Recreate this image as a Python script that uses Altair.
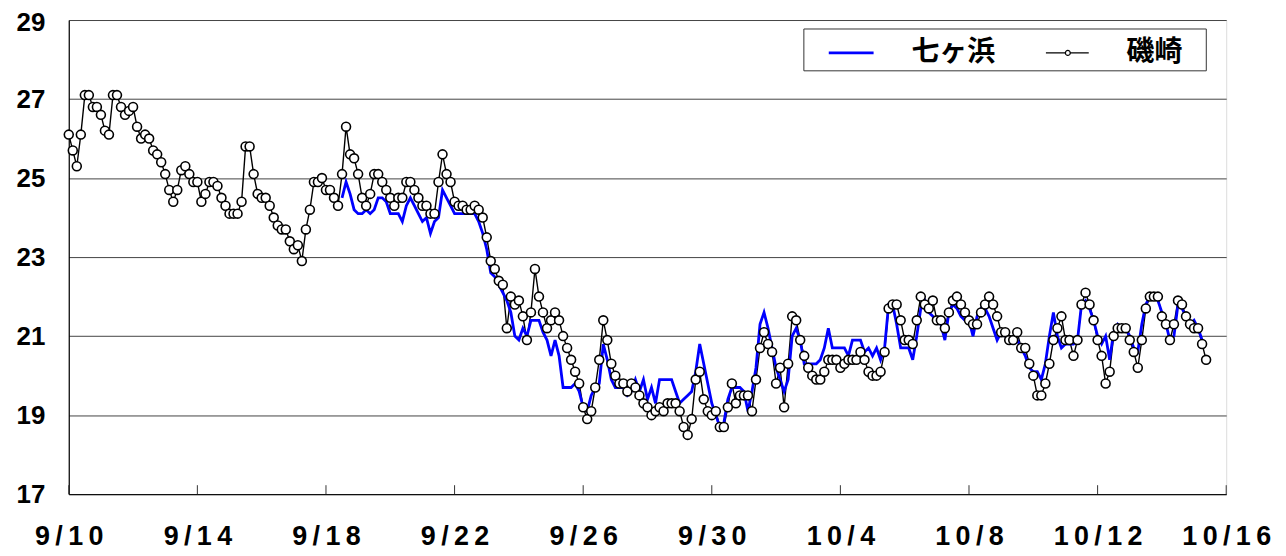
import altair as alt
import pandas as pd

# 磯崎 : 3-hourly values from 2023-09-10 00:00
isozaki = [
    26.1, 25.7, 25.3, 26.1, 27.1, 27.1, 26.8, 26.8,
    26.6, 26.2, 26.1, 27.1, 27.1, 26.8, 26.6, 26.7,
    26.8, 26.3, 26.0, 26.1, 26.0, 25.7, 25.6, 25.4,
    25.1, 24.7, 24.4, 24.7, 25.2, 25.3, 25.1, 24.9,
    24.9, 24.4, 24.6, 24.9, 24.9, 24.8, 24.5, 24.3,
    24.1, 24.1, 24.1, 24.4, 25.8, 25.8, 25.1, 24.6,
    24.5, 24.5, 24.3, 24.0, 23.8, 23.7, 23.7, 23.4,
    23.2, 23.3, 22.9, 23.7, 24.2, 24.9, 24.9, 25.0,
    24.7, 24.7, 24.5, 24.3, 25.1, 26.3, 25.6, 25.5,
    25.1, 24.5, 24.3, 24.6, 25.1, 25.1, 24.9, 24.7,
    24.5, 24.3, 24.5, 24.5, 24.9, 24.9, 24.7, 24.5,
    24.3, 24.3, 24.1, 24.1, 24.9, 25.6, 25.1, 24.9,
    24.4, 24.3, 24.3, 24.2, 24.2, 24.3, 24.2, 24.0,
    23.5, 22.9, 22.7, 22.4, 22.3, 21.2, 22.0, 21.8,
    21.9, 21.5, 20.9, 21.6, 22.7, 22.0, 21.6, 21.2,
    21.4, 21.6, 21.4, 21.0, 20.7, 20.4, 20.1, 19.8,
    19.2, 18.9, 19.1, 19.7, 20.4, 21.4, 20.9, 20.3,
    20.0, 19.8, 19.8, 19.6, 19.8, 19.7, 19.5, 19.3,
    19.2, 19.0, 19.1, 19.2, 19.1, 19.3, 19.3, 19.3,
    19.1, 18.7, 18.5, 18.9, 19.9, 20.1, 19.4, 19.1,
    19.0, 19.1, 18.7, 18.7, 19.2, 19.8, 19.3, 19.5,
    19.5, 19.5, 19.1, 19.9, 20.7, 21.1, 20.8, 20.6,
    19.8, 20.2, 19.2, 20.3, 21.5, 21.4, 20.9, 20.5,
    20.2, 20.0, 19.9, 19.9, 20.1, 20.4, 20.4, 20.4,
    20.2, 20.3, 20.4, 20.4, 20.4, 20.6, 20.4, 20.1,
    20.0, 20.0, 20.1, 20.6, 21.7, 21.8, 21.8, 21.4,
    20.9, 20.9, 20.8, 21.4, 22.0, 21.8, 21.7, 21.9,
    21.4, 21.4, 21.2, 21.6, 21.9, 22.0, 21.8, 21.6,
    21.4, 21.3, 21.3, 21.6, 21.8, 22.0, 21.8, 21.5,
    21.1, 21.1, 20.9, 20.9, 21.1, 20.7, 20.7, 20.3,
    20.0, 19.5, 19.5, 19.8, 20.3, 20.9, 21.2, 21.5,
    20.9, 20.9, 20.5, 20.9, 21.8, 22.1, 21.8, 21.4,
    20.9, 20.5, 19.8, 20.1, 21.0, 21.2, 21.2, 21.2,
    20.9, 20.6, 20.2, 20.9, 21.7, 22.0, 22.0, 22.0,
    21.5, 21.3, 20.9, 21.3, 21.9, 21.8, 21.5, 21.3,
    21.2, 21.2, 20.8, 20.4,
]

# 七ヶ浜 : 3-hourly values from 2023-09-18 12:00
shichigahama = [
    24.5, 24.9, 24.6, 24.2,
    24.1, 24.1, 24.2, 24.1, 24.2, 24.5, 24.5, 24.4,
    24.1, 24.1, 24.1, 23.9, 24.3, 24.5, 24.3, 24.1,
    23.9, 24.0, 23.6, 23.9, 24.0, 24.7, 24.5, 24.3,
    24.1, 24.1, 24.1, 24.1, 24.1, 24.1, 23.9, 23.6,
    23.2, 22.6, 22.5, 22.3, 22.1, 21.9, 21.6, 21.0,
    20.9, 21.2, 21.0, 21.4, 21.4, 21.4, 21.1, 20.9,
    20.5, 20.9, 20.5, 19.7, 19.7, 19.7, 19.8, 19.6,
    19.2, 19.1, 19.5, 19.7, 19.8, 20.8, 20.4, 19.9,
    19.7, 19.7, 19.7, 19.5, 19.6, 19.9, 19.6, 19.9,
    19.4, 19.7, 19.3, 19.9, 19.9, 19.9, 19.9, 19.6,
    19.3, 19.4, 19.5, 19.6, 20.1, 20.8, 20.3, 19.8,
    19.3, 19.0, 18.7, 18.8, 19.4, 19.7, 19.7, 19.7,
    19.6, 19.1, 19.6, 20.2, 21.3, 21.6, 21.2, 20.7,
    20.2, 19.9, 19.6, 19.9, 21.0, 21.2, 20.9, 20.3,
    20.3, 20.3, 20.3, 20.4, 20.7, 21.2, 20.7, 20.7,
    20.7, 20.7, 20.5, 20.9, 20.9, 20.9, 20.6, 20.7,
    20.5, 20.7, 20.4, 20.7, 21.8, 21.8, 21.3, 20.7,
    20.7, 20.7, 20.4, 21.0, 21.7, 21.9, 21.6, 21.5,
    21.4, 21.3, 20.9, 21.6, 21.8, 21.7, 21.5, 21.4,
    21.4, 21.0, 21.5, 21.7, 21.7, 21.5, 21.2, 20.9,
    21.1, 21.0, 20.9, 20.9, 20.9, 20.7, 20.5, 20.2,
    20.1, 20.1, 19.9, 20.3, 21.0, 21.6, 21.0, 20.7,
    20.8, 20.8, 20.8, 20.9, 21.8, 21.9, 21.7, 21.4,
    21.0, 20.8, 21.0, 20.4, 21.1, 21.3, 21.2, 21.2,
    21.0, 20.7, 20.6, 21.3, 21.8, 22.0, 22.0, 21.9,
    21.6, 21.3, 20.9, 21.0, 21.8, 21.7, 21.5, 21.3,
    21.4, 21.2, 20.9, 20.8,
]

tick_dates = [(9, 10), (9, 14), (9, 18), (9, 22), (9, 26), (9, 30),
              (10, 4), (10, 8), (10, 12), (10, 16)]
y_ticks = [17, 19, 21, 23, 25, 27, 29]

t_iso = pd.date_range("2023-09-10 00:00", periods=len(isozaki), freq="3h")
t_shi = pd.date_range("2023-09-18 12:00", periods=len(shichigahama), freq="3h")
df_iso = pd.DataFrame({"t": t_iso.strftime("%Y-%m-%dT%H:%M:%S"), "v": isozaki})
df_shi = pd.DataFrame({"t": t_shi.strftime("%Y-%m-%dT%H:%M:%S"), "v": shichigahama})
df_ticks = pd.DataFrame({"t": [f"2023-{m:02d}-{d:02d}T00:00:00" for m, d in tick_dates]})
one = pd.DataFrame({"k": [0]})

W, H = 1162, 476
FONT = "Liberation Sans"
CJK = "Noto Sans CJK JP"

xscale = alt.Scale(domain=[alt.DateTime(year=2023, month=9, date=10),
                           alt.DateTime(year=2023, month=10, date=16)])
yscale = alt.Scale(domain=[17, 29], nice=False, zero=False)

xaxis = alt.Axis(
    values=[alt.DateTime(year=2023, month=m, date=d) for m, d in tick_dates],
    labelExpr="join(split(timeFormat(datum.value, '%-m/%-d'), ''), '\u2009')",
    grid=False, ticks=False, tickSize=0, labelPadding=30,
    labelFont=FONT, labelFontSize=27, labelFontWeight="bold", labelColor="black",
    domainColor="black", domainWidth=1, title=None, labelFlush=False,
)
yaxis = alt.Axis(
    values=y_ticks, grid=True, gridColor="#444", gridWidth=1,
    ticks=False, tickSize=0, labelPadding=24,
    labelFont=FONT, labelFontSize=26, labelFontWeight="bold", labelColor="black",
    domainColor="black", domainWidth=1.2, title=None, labelFlush=False,
    labelOffset={"condition": {"test": "datum.value == 29", "value": 3}, "value": 0},
)

black_line = alt.Chart(df_iso).mark_line(color="black", strokeWidth=1.4).encode(
    x=alt.X("t:T", scale=xscale, axis=xaxis),
    y=alt.Y("v:Q", scale=yscale, axis=yaxis),
)
blue_line = alt.Chart(df_shi).mark_line(color="#0000FF", strokeWidth=2.8).encode(
    x=alt.X("t:T", scale=xscale),
    y=alt.Y("v:Q", scale=yscale),
)
circles = alt.Chart(df_iso).mark_point(
    shape="circle", filled=True, fill="white", stroke="black",
    strokeWidth=1.6, size=80, opacity=1,
).encode(
    x=alt.X("t:T", scale=xscale),
    y=alt.Y("v:Q", scale=yscale),
)
inner_ticks = alt.Chart(df_ticks).mark_rule(color="#333", strokeWidth=1).encode(
    x=alt.X("t:T", scale=xscale),
    y=alt.value(H - 9), y2=alt.value(H),
)

# legend box
leg_box = alt.Chart(one).mark_rect(fill="white", stroke="#333", strokeWidth=1).encode(
    x=alt.value(738), x2=alt.value(1142), y=alt.value(9), y2=alt.value(51))
leg_blue = alt.Chart(one).mark_rule(color="#0000FF", strokeWidth=2.8).encode(
    x=alt.value(763), x2=alt.value(808), y=alt.value(33))
leg_black = alt.Chart(one).mark_rule(color="black", strokeWidth=1.2).encode(
    x=alt.value(981), x2=alt.value(1024), y=alt.value(33))
leg_circle = alt.Chart(one).mark_point(
    shape="circle", filled=True, fill="white", stroke="black", strokeWidth=1.2,
    size=24, opacity=1).encode(x=alt.value(1003), y=alt.value(33))
leg_t1 = alt.Chart(one).mark_text(
    text="七ヶ浜", font=CJK, fontSize=28, fontWeight="bold", align="left",
    baseline="middle", color="black").encode(x=alt.value(846), y=alt.value(33))
leg_t2 = alt.Chart(one).mark_text(
    text="磯崎", font=CJK, fontSize=28, fontWeight="bold", align="left",
    baseline="middle", color="black").encode(x=alt.value(1062), y=alt.value(33))

chart = alt.layer(
    black_line, blue_line, circles, inner_ticks,
    leg_box, leg_blue, leg_black, leg_circle, leg_t1, leg_t2,
).properties(
    width=W, height=H,
    autosize=alt.AutoSizeParams(type="none"),
    padding={"left": 61, "top": 11, "right": 52, "bottom": 59},
).configure_view(stroke="#222", strokeWidth=1).configure(background="white")

chart.save("out.html", embed_options={"renderer": "svg", "actions": False})
